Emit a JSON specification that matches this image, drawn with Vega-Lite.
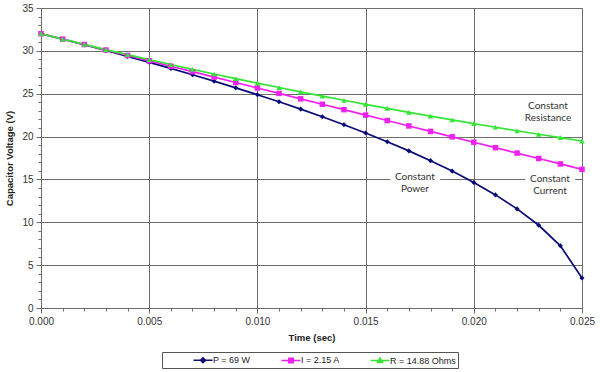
{
  "$schema": "https://vega.github.io/schema/vega-lite/v6.json",
  "width": 541,
  "height": 300,
  "autosize": "none",
  "padding": {"left": 41, "top": 8, "right": 18, "bottom": 64},
  "background": "white",
  "config": {
    "view": {"stroke": "#6e6e6e", "strokeWidth": 1},
    "font": "Liberation Sans"
  },
  "datasets": {
    "curves": [
      {"t":0.000,"s":"P = 69 W","v":32},{"t":0.001,"s":"P = 69 W","v":31.361},{"t":0.002,"s":"P = 69 W","v":30.710},{"t":0.003,"s":"P = 69 W","v":30.043},{"t":0.004,"s":"P = 69 W","v":29.362},{"t":0.005,"s":"P = 69 W","v":28.664},{"t":0.006,"s":"P = 69 W","v":27.950},{"t":0.007,"s":"P = 69 W","v":27.216},{"t":0.008,"s":"P = 69 W","v":26.462},{"t":0.009,"s":"P = 69 W","v":25.686},{"t":0.010,"s":"P = 69 W","v":24.886},{"t":0.011,"s":"P = 69 W","v":24.059},{"t":0.012,"s":"P = 69 W","v":23.203},{"t":0.013,"s":"P = 69 W","v":22.314},{"t":0.014,"s":"P = 69 W","v":21.387},{"t":0.015,"s":"P = 69 W","v":20.419},{"t":0.016,"s":"P = 69 W","v":19.403},{"t":0.017,"s":"P = 69 W","v":18.331},{"t":0.018,"s":"P = 69 W","v":17.191},{"t":0.019,"s":"P = 69 W","v":15.971},{"t":0.020,"s":"P = 69 W","v":14.649},{"t":0.021,"s":"P = 69 W","v":13.196},{"t":0.022,"s":"P = 69 W","v":11.561},{"t":0.023,"s":"P = 69 W","v":9.653},{"t":0.024,"s":"P = 69 W","v":7.261},{"t":0.025,"s":"P = 69 W","v":3.5},
      {"t":0.000,"s":"I = 2.15 A","v":32},{"t":0.001,"s":"I = 2.15 A","v":31.367},{"t":0.002,"s":"I = 2.15 A","v":30.734},{"t":0.003,"s":"I = 2.15 A","v":30.101},{"t":0.004,"s":"I = 2.15 A","v":29.468},{"t":0.005,"s":"I = 2.15 A","v":28.835},{"t":0.006,"s":"I = 2.15 A","v":28.202},{"t":0.007,"s":"I = 2.15 A","v":27.569},{"t":0.008,"s":"I = 2.15 A","v":26.936},{"t":0.009,"s":"I = 2.15 A","v":26.303},{"t":0.010,"s":"I = 2.15 A","v":25.670},{"t":0.011,"s":"I = 2.15 A","v":25.037},{"t":0.012,"s":"I = 2.15 A","v":24.404},{"t":0.013,"s":"I = 2.15 A","v":23.771},{"t":0.014,"s":"I = 2.15 A","v":23.138},{"t":0.015,"s":"I = 2.15 A","v":22.505},{"t":0.016,"s":"I = 2.15 A","v":21.872},{"t":0.017,"s":"I = 2.15 A","v":21.239},{"t":0.018,"s":"I = 2.15 A","v":20.606},{"t":0.019,"s":"I = 2.15 A","v":19.973},{"t":0.020,"s":"I = 2.15 A","v":19.340},{"t":0.021,"s":"I = 2.15 A","v":18.707},{"t":0.022,"s":"I = 2.15 A","v":18.074},{"t":0.023,"s":"I = 2.15 A","v":17.441},{"t":0.024,"s":"I = 2.15 A","v":16.808},{"t":0.025,"s":"I = 2.15 A","v":16.175},
      {"t":0.000,"s":"R = 14.88 Ohms","v":32},{"t":0.001,"s":"R = 14.88 Ohms","v":31.371},{"t":0.002,"s":"R = 14.88 Ohms","v":30.754},{"t":0.003,"s":"R = 14.88 Ohms","v":30.150},{"t":0.004,"s":"R = 14.88 Ohms","v":29.557},{"t":0.005,"s":"R = 14.88 Ohms","v":28.976},{"t":0.006,"s":"R = 14.88 Ohms","v":28.406},{"t":0.007,"s":"R = 14.88 Ohms","v":27.848},{"t":0.008,"s":"R = 14.88 Ohms","v":27.300},{"t":0.009,"s":"R = 14.88 Ohms","v":26.764},{"t":0.010,"s":"R = 14.88 Ohms","v":26.238},{"t":0.011,"s":"R = 14.88 Ohms","v":25.722},{"t":0.012,"s":"R = 14.88 Ohms","v":25.216},{"t":0.013,"s":"R = 14.88 Ohms","v":24.720},{"t":0.014,"s":"R = 14.88 Ohms","v":24.234},{"t":0.015,"s":"R = 14.88 Ohms","v":23.758},{"t":0.016,"s":"R = 14.88 Ohms","v":23.291},{"t":0.017,"s":"R = 14.88 Ohms","v":22.833},{"t":0.018,"s":"R = 14.88 Ohms","v":22.384},{"t":0.019,"s":"R = 14.88 Ohms","v":21.944},{"t":0.020,"s":"R = 14.88 Ohms","v":21.513},{"t":0.021,"s":"R = 14.88 Ohms","v":21.090},{"t":0.022,"s":"R = 14.88 Ohms","v":20.675},{"t":0.023,"s":"R = 14.88 Ohms","v":20.269},{"t":0.024,"s":"R = 14.88 Ohms","v":19.870},{"t":0.025,"s":"R = 14.88 Ohms","v":19.480}
    ],
    "boxes": [
      {"t":0.01613,"t2":0.01844,"v":16.0,"v2":13.3},
      {"t":0.02237,"t2":0.02468,"v":16.0,"v2":13.3}
    ],
    "notes": [
      {"t":0.02343,"v":23.57,"label":"Constant"},
      {"t":0.02343,"v":22.17,"label":"Resistance"},
      {"t":0.01728,"v":15.28,"label":"Constant"},
      {"t":0.01728,"v":13.88,"label":"Power"},
      {"t":0.02352,"v":15.05,"label":"Constant"},
      {"t":0.02352,"v":13.62,"label":"Current"}
    ]
  },
  "data": {"name": "curves"},
  "encoding": {
    "x": {
      "field": "t", "type": "quantitative",
      "scale": {"domain": [0, 0.025], "nice": false, "zero": false},
      "axis": {
        "title": "Time  (sec)",
        "values": [0,0.001,0.002,0.003,0.004,0.005,0.006,0.007,0.008,0.009,0.010,0.011,0.012,0.013,0.014,0.015,0.016,0.017,0.018,0.019,0.020,0.021,0.022,0.023,0.024,0.025],
        "labelExpr": "abs(datum.value*200 - round(datum.value*200)) < 0.001 ? format(datum.value, '.3f') : ''",
        "labelOverlap": false, "labelFlush": false,
        "labelFontSize": 10, "labelColor": "#333333", "labelPadding": 3,
        "grid": true, "gridColor": "#6e6e6e", "gridWidth": 1,
        "gridOpacity": {"condition": {"test": "abs(datum.value*200 - round(datum.value*200)) < 0.001", "value": 1}, "value": 0},
        "tickColor": "#6e6e6e",
        "tickSize": {"condition": {"test": "abs(datum.value*200 - round(datum.value*200)) < 0.001", "value": 5}, "value": 3},
        "domainColor": "#6e6e6e",
        "titleFontSize": 9.5, "titleFontWeight": "bold", "titleColor": "#222222", "titlePadding": 6
      }
    },
    "y": {
      "field": "v", "type": "quantitative",
      "scale": {"domain": [0, 35], "nice": false},
      "axis": {
        "title": "Capacitor  Voltage  (V)",
        "values": [0,1,2,3,4,5,6,7,8,9,10,11,12,13,14,15,16,17,18,19,20,21,22,23,24,25,26,27,28,29,30,31,32,33,34,35],
        "labelExpr": "datum.value % 5 === 0 ? datum.label : ''",
        "labelOverlap": false, "labelFlush": false,
        "labelFontSize": 10, "labelColor": "#333333", "labelPadding": 3,
        "grid": true, "gridColor": "#6e6e6e", "gridWidth": 1,
        "gridOpacity": {"condition": {"test": "datum.value % 5 === 0", "value": 1}, "value": 0},
        "tickColor": "#6e6e6e",
        "tickSize": {"condition": {"test": "datum.value % 5 === 0", "value": 5}, "value": 3},
        "domainColor": "#6e6e6e",
        "titleFontSize": 9.5, "titleFontWeight": "bold", "titleColor": "#222222", "titlePadding": 7
      }
    }
  },
  "layer": [
    {
      "data": {"name": "boxes"},
      "mark": {"type": "rect", "fill": "white", "stroke": null},
      "encoding": {"x2": {"field": "t2"}, "y2": {"field": "v2"}}
    },
    {
      "mark": {"type": "line", "strokeWidth": 1.7},
      "encoding": {
        "color": {
          "field": "s", "type": "nominal",
          "scale": {"domain": ["P = 69 W", "I = 2.15 A", "R = 14.88 Ohms"], "range": ["#0a0a78", "#f020f0", "#33e633"]},
          "legend": {
            "orient": "none", "legendX": 121, "legendY": 344,
            "direction": "horizontal", "title": null,
            "strokeColor": "#555555", "fillColor": "white", "padding": 2,
            "columnPadding": 1, "labelFontSize": 9, "labelColor": "#222222",
            "labelOffset": 4, "symbolOffset": 33,
            "symbolSize": 100, "symbolStrokeWidth": 1.5, "symbolType": "stroke",
            "encode": {
              "symbols": {
                "update": {
                  "shape": {"signal": "datum.value === 'P = 69 W' ? 'M-1.9,0H1.9M0,-0.5L0.5,0L0,0.5L-0.5,0Z' : datum.value === 'I = 2.15 A' ? 'M-1.9,0H1.9M-0.45,-0.45H0.45V0.45H-0.45Z' : 'M-1.9,0H1.9M0,-0.5L0.5,0.4H-0.5Z'"},
                  "fill": {"signal": "scale('color', datum.value)"},
                  "stroke": {"signal": "scale('color', datum.value)"},
                  "opacity": {"value": 1}
                }
              }
            }
          }
        }
      }
    },
    {
      "transform": [{"filter": "datum.s === 'P = 69 W'"}],
      "mark": {"type": "point", "filled": true, "opacity": 1, "size": 26, "shape": "diamond", "color": "#0a0a78"}
    },
    {
      "transform": [{"filter": "datum.s === 'I = 2.15 A'"}],
      "mark": {"type": "point", "filled": true, "opacity": 1, "size": 30, "shape": "square", "color": "#f020f0"}
    },
    {
      "transform": [{"filter": "datum.s === 'R = 14.88 Ohms'"}],
      "mark": {"type": "point", "filled": true, "opacity": 1, "size": 30, "shape": "triangle-up", "color": "#33e633"}
    },
    {
      "data": {"name": "notes"},
      "mark": {"type": "text", "font": "Lato", "fontSize": 10, "color": "#333333", "align": "center", "baseline": "middle"},
      "encoding": {"text": {"field": "label"}}
    }
  ]
}
